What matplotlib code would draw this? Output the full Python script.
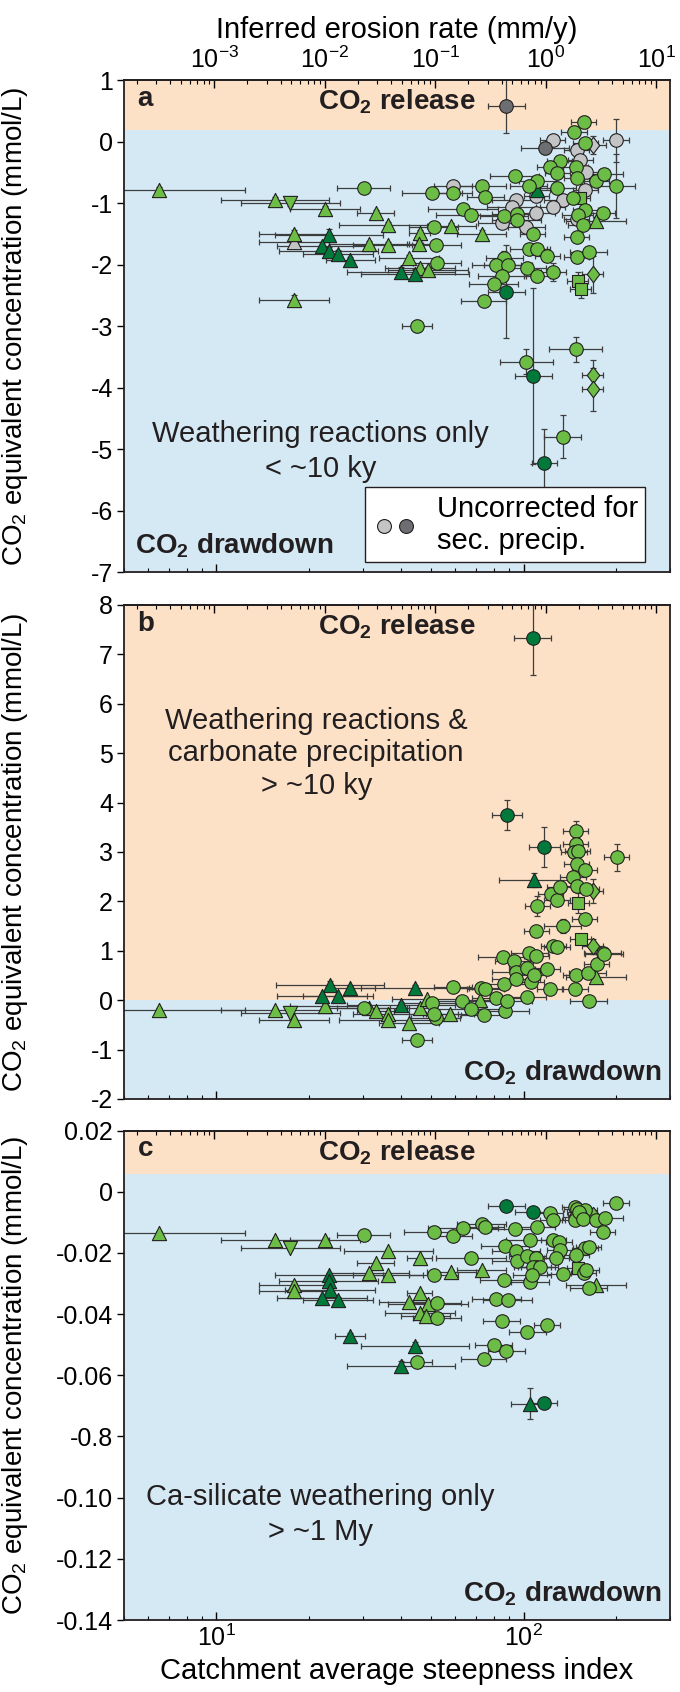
import numpy as np
import matplotlib
matplotlib.use('Agg')
from matplotlib import pyplot as plt
from matplotlib.lines import Line2D
from matplotlib.legend_handler import HandlerTuple
from matplotlib.ticker import NullFormatter, FixedFormatter

plt.rcParams['font.family'] = ['Liberation Sans', 'DejaVu Sans']
plt.rcParams['mathtext.default'] = 'regular'
plt.rcParams['axes.unicode_minus'] = False

# ---- data: ksn (x), CO2 equivalent (y), ksn error as factor, y error ----
# panel a
A_TRI_K = [6.5, 15.5, 22.6, 33.0, 36.3, 17.9, 45.9, 58.2, 73.0, 31.5, 36.3, 45.8, 42.4, 45.9, 48.9, 17.9, 172.5]
A_TRI_Y = [-0.79, -0.95, -1.10, -1.17, -1.36, -1.50, -1.49, -1.37, -1.50, -1.66, -1.68, -1.66, -1.89, -2.05, -2.09, -2.58, -1.30]
A_TRI_KE = [1.9, 1.5, 1.3, 1.15, 1.45, 1.3, 1.08, 1.2, 1.2, 1.35, 1.3, 1.1, 1.25, 1.3, 1.35, 1.3, 1.25]
A_TRI_YE = [0.05, 0.05, 0.05, 0.06, 0.05, 0.06, 0.05, 0.05, 0.06, 0.05, 0.05, 0.05, 0.05, 0.05, 0.05, 0.08, 0.08]
A_TRID_K = [23.2, 22.1, 23.2, 24.8, 27.3, 39.8, 44.4, 111.0]
A_TRID_Y = [-1.52, -1.70, -1.78, -1.83, -1.92, -2.12, -2.16, -0.79]
A_TRID_KE = [1.5, 1.4, 1.45, 1.3, 1.2, 1.5, 1.5, 1.1]
A_TRID_YE = [0.10, 0.06, 0.06, 0.06, 0.05, 0.08, 0.08, 0.05]
A_TRIV_K, A_TRIV_Y, A_TRIV_KE, A_TRIV_YE = [17.4], [-1.00], [1.45], [0.05]
A_TRIG_K, A_TRIG_Y, A_TRIG_KE, A_TRIG_YE = [17.9], [-1.63], [1.3], [0.05]
A_CIR_K = [30.2, 50.4, 58.9, 73.3, 75.2, 93.5, 111, 104, 131, 122,
           129, 148, 149, 172.5, 183, 200, 129, 157, 146, 159,
           145, 159, 150, 181, 156, 63.4, 67.6, 86.5, 95, 95,
           107, 149, 149, 163, 51, 52, 52.3, 104, 110.5, 119.5,
           86.5, 81.5, 89, 103, 110.5, 125, 85, 80, 74.1, 44.9,
           102, 148, 134]
A_CIR_Y = [-0.75, -0.83, -0.84, -0.72, -0.90, -0.56, -0.64, -0.72, -0.31, -0.42,
           -0.51, -0.42, -0.60, -0.64, -0.53, -0.72, -0.75, 0.32, 0.15, -0.02,
           -0.92, -1.11, -1.20, -1.17, -1.36, -1.10, -1.20, -1.21, -1.18, -1.28,
           -1.50, -1.55, -1.87, -1.80, -1.39, -1.69, -1.97, -1.74, -1.74, -1.86,
           -1.90, -2.01, -2.01, -2.05, -2.19, -2.12, -2.18, -2.31, -2.60, -3.00,
           -3.58, -3.38, -4.80]
A_CIR_KE = [1.22, 1.25, 1.15, 1.2, 1.15, 1.2, 1.15, 1.15, 1.1, 1.1,
            1.1, 1.1, 1.1, 1.1, 1.15, 1.15, 1.15, 1.1, 1.1, 1.1,
            1.1, 1.1, 1.12, 1.1, 1.12, 1.3, 1.3, 1.2, 1.2, 1.2,
            1.1, 1.1, 1.1, 1.15, 1.2, 1.2, 1.2, 1.15, 1.1, 1.1,
            1.15, 1.2, 1.2, 1.15, 1.1, 1.1, 1.2, 1.2, 1.18, 1.12,
            1.22, 1.22, 1.15]
A_CIR_YE = [0.05, 0.05, 0.05, 0.05, 0.05, 0.05, 0.05, 0.05, 0.05, 0.05,
            0.05, 0.05, 0.05, 0.05, 0.05, 0.52, 0.05, 0.10, 0.10, 0.05,
            0.05, 0.05, 0.05, 0.05, 0.05, 0.05, 0.05, 0.06, 0.06, 0.06,
            0.05, 0.05, 0.05, 0.05, 0.05, 0.05, 0.05, 0.06, 0.06, 0.05,
            0.12, 0.06, 0.06, 0.06, 0.10, 0.15, 0.06, 0.06, 0.05, 0.10,
            0.20, 0.20, 0.35]
A_CIRD_K = [88, 107.5, 117]
A_CIRD_Y = [-2.44, -3.81, -5.23]
A_CIRD_KE = [1.15, 1.15, 1.1]
A_CIRD_YE = [0.76, 1.43, 0.55]
A_GRY_K = [124.5, 149, 153, 200, 160, 159, 110, 58.9, 94.6, 134, 124.5, 91.6, 110, 85, 102, 149]
A_GRY_Y = [0.02, -0.14, -0.30, 0.02, -0.49, -0.78, -0.89, -0.73, -0.95, -0.95, -1.06, -1.06, -1.16, -1.33, -1.39, -1.26]
A_GRY_KE = [1.1, 1.1, 1.1, 1.1, 1.1, 1.1, 1.1, 1.15, 1.2, 1.15, 1.1, 1.2, 1.15, 1.2, 1.15, 1.1]
A_GRY_YE = [0.05, 0.05, 0.05, 0.35, 0.05, 0.05, 0.05, 0.05, 0.05, 0.05, 0.05, 0.05, 0.05, 0.05, 0.05, 0.05]
A_GRYD_K, A_GRYD_Y, A_GRYD_KE, A_GRYD_YE = [88, 117.5], [0.58, -0.11], [1.15, 1.2], [0.44, 0.10]
A_SQ_K, A_SQ_Y, A_SQ_KE, A_SQ_YE = [153, 150, 153.5], [-0.91, -2.27, -2.40], [1.08, 1.08, 1.08], [0.05, 0.15, 0.15]
A_DIA_K, A_DIA_Y, A_DIA_KE, A_DIA_YE = [168, 168, 168], [-2.16, -3.80, -4.03], [1.08, 1.08, 1.08], [0.30, 0.25, 0.35]
A_DIAG_K, A_DIAG_Y, A_DIAG_KE, A_DIAG_YE = [169], [-0.06], [1.1], [0.15]

# panel b
B_TRI_K = [6.5, 15.5, 17.9, 22.6, 31.5, 33.0, 36.3, 36.3, 42.4, 45.9, 48.6, 57.7, 72.4, 172.5]
B_TRI_Y = [-0.20, -0.19, -0.41, -0.12, -0.15, -0.22, -0.28, -0.41, -0.46, -0.16, 0.03, -0.29, 0.00, 0.47]
B_TRI_KE = [1.9, 1.5, 1.3, 1.3, 1.35, 1.15, 1.3, 1.45, 1.25, 1.1, 1.3, 1.2, 1.2, 1.25]
B_TRI_YE = 0.04
B_TRID_K = [23.4, 22.1, 24.8, 27.3, 39.8, 44.4, 108]
B_TRID_Y = [0.30, 0.08, 0.08, 0.25, -0.09, 0.25, 2.43]
B_TRID_KE = [1.5, 1.4, 1.3, 1.2, 1.5, 1.5, 1.3]
B_TRID_YE = [0.08, 0.05, 0.05, 0.04, 0.06, 0.06, 0.15]
B_TRIV_K, B_TRIV_Y, B_TRIV_KE, B_TRIV_YE = [17.4], [-0.27], [1.45], [0.04]
B_CIR_K = [30.2, 50.4, 51.8, 51.0, 58.9, 63.0, 67.5, 72.6, 75.2, 74.1,
           81.5, 85.5, 86.7, 87.0, 88.5, 93.2, 94.4, 94.4, 103, 103,
           104.5, 106, 108, 110, 111, 110, 119.5, 122, 125, 128.5,
           122.5, 128.5, 131, 134, 148, 148, 146, 150, 149, 145,
           149, 158, 160, 158, 148, 147, 162, 163, 173, 181,
           183, 201, 44.9]
B_CIR_Y = [-0.16, -0.05, -0.36, -0.28, 0.27, -0.02, -0.18, 0.25, 0.22, -0.31,
           0.05, 0.88, 0.32, -0.21, -0.02, 0.79, 0.57, 0.42, 0.06, 0.66,
           0.96, 0.37, 0.51, 0.89, 1.91, 1.40, 0.64, 0.22, 1.09, 1.07,
           2.14, 2.02, 2.29, 1.50, 3.43, 3.16, 2.99, 3.02, 2.76, 2.49,
           2.31, 2.64, 2.24, 1.64, 0.51, 0.22, 0.55, -0.01, 0.74, 0.96,
           0.93, 2.89, -0.80]
B_CIR_KE = [1.22, 1.25, 1.2, 1.2, 1.15, 1.3, 1.3, 1.2, 1.15, 1.18,
            1.2, 1.2, 1.2, 1.2, 1.2, 1.15, 1.2, 1.2, 1.15, 1.15,
            1.15, 1.1, 1.1, 1.1, 1.1, 1.1, 1.1, 1.1, 1.1, 1.1,
            1.1, 1.1, 1.1, 1.15, 1.1, 1.1, 1.1, 1.1, 1.1, 1.1,
            1.1, 1.1, 1.1, 1.1, 1.1, 1.1, 1.15, 1.15, 1.1, 1.15,
            1.15, 1.1, 1.12]
B_CIR_YE = [0.05, 0.05, 0.05, 0.05, 0.05, 0.05, 0.05, 0.05, 0.05, 0.05,
            0.05, 0.05, 0.05, 0.05, 0.05, 0.05, 0.05, 0.05, 0.05, 0.05,
            0.05, 0.05, 0.05, 0.05, 0.20, 0.05, 0.05, 0.05, 0.05, 0.05,
            0.05, 0.05, 0.05, 0.15, 0.20, 0.05, 0.05, 0.05, 0.05, 0.05,
            0.05, 0.05, 0.05, 0.05, 0.05, 0.05, 0.05, 0.05, 0.05, 0.05,
            0.05, 0.28, 0.05]
B_CIRD_K, B_CIRD_Y, B_CIRD_KE, B_CIRD_YE = [107, 88.5, 117], [7.33, 3.75, 3.10], [1.15, 1.12, 1.12], [0.75, 0.30, 0.40]
B_SQ_K, B_SQ_Y, B_SQ_KE, B_SQ_YE = [151, 153.5], [1.97, 1.23], [1.08, 1.08], [0.20, 0.10]
B_DIA_K, B_DIA_Y, B_DIA_KE, B_DIA_YE = [168, 168], [2.21, 1.09], [1.08, 1.08], [0.25, 0.15]

# panel c
C_TRI_K = [6.5, 15.5, 22.6, 36.3, 45.9, 33.0, 31.5, 36.3, 58.2, 73.0, 17.9, 17.9, 45.9, 42.4, 48.9, 45.9, 48.0, 172.5]
C_TRI_Y = [-0.0136, -0.0158, -0.0158, -0.0194, -0.0218, -0.0234, -0.0265, -0.0272, -0.0261, -0.0256,
           -0.0304, -0.0323, -0.0331, -0.0359, -0.0366, -0.0397, -0.0405, -0.0305]
C_TRI_KE = [1.9, 1.5, 1.3, 1.4, 1.1, 1.15, 1.35, 1.3, 1.2, 1.2, 1.3, 1.3, 1.1, 1.25, 1.35, 1.3, 1.2, 1.25]
C_TRI_YE = 0.0006
C_TRID_K = [23.2, 23.2, 23.4, 22.1, 24.8, 27.3, 44.4, 39.8, 105]
C_TRID_Y = [-0.0273, -0.0293, -0.0320, -0.0348, -0.0353, -0.0471, -0.0506, -0.0569, -0.0693]
C_TRID_KE = [1.5, 1.45, 1.4, 1.4, 1.3, 1.12, 1.5, 1.5, 1.15]
C_TRID_YE = [0.0008, 0.0008, 0.0008, 0.0008, 0.0008, 0.0008, 0.0015, 0.0015, 0.005]
C_TRIV_K, C_TRIV_Y, C_TRIV_KE, C_TRIV_YE = [17.4], [-0.0183], [1.45], [0.0006]
C_CIR_K = [30.2, 51.0, 59.0, 63.4, 73.0, 75.2, 94.0, 110.5, 105, 122.4,
           124.4, 125, 130.7, 147, 149, 158, 148, 153, 147, 152,
           156, 172.5, 184, 200, 181, 87, 94.6, 131, 159, 163,
           148.6, 67.5, 95, 103, 110, 128, 110, 107, 113, 51,
           86.5, 105, 106.5, 134, 157, 160, 163, 81.5, 88.7, 52.3,
           52.3, 85, 119.4, 103, 80, 88, 74.1, 44.9]
C_CIR_Y = [-0.0142, -0.0131, -0.0145, -0.0118, -0.0106, -0.0117, -0.0123, -0.0117, -0.0158, -0.0068,
           -0.0093, -0.0158, -0.0163, -0.0049, -0.0058, -0.0060, -0.0082, -0.0076, -0.0093, -0.0065,
           -0.0088, -0.0093, -0.0087, -0.0036, -0.0131, -0.0178, -0.0194, -0.0191, -0.0185, -0.0180,
           -0.0207, -0.0216, -0.0225, -0.0210, -0.0218, -0.0216, -0.0247, -0.0247, -0.0245, -0.0272,
           -0.0289, -0.0294, -0.0272, -0.0270, -0.0267, -0.0256, -0.0316, -0.0352, -0.0354, -0.0363,
           -0.0414, -0.0422, -0.0436, -0.0458, -0.0500, -0.0522, -0.0547, -0.0557]
C_CIR_KE = [1.22, 1.25, 1.15, 1.3, 1.2, 1.15, 1.2, 1.15, 1.2, 1.1,
            1.1, 1.1, 1.1, 1.1, 1.1, 1.1, 1.1, 1.1, 1.1, 1.1,
            1.1, 1.1, 1.15, 1.1, 1.1, 1.2, 1.2, 1.1, 1.1, 1.1,
            1.1, 1.3, 1.2, 1.15, 1.15, 1.1, 1.15, 1.15, 1.15, 1.2,
            1.2, 1.15, 1.15, 1.12, 1.1, 1.1, 1.15, 1.2, 1.2, 1.2,
            1.2, 1.15, 1.1, 1.15, 1.15, 1.15, 1.18, 1.12]
C_CIR_YE = 0.0007
C_CIRD_K, C_CIRD_Y, C_CIRD_KE, C_CIRD_YE = [88, 107.7, 117], [-0.0047, -0.0065, -0.0691], [1.15, 1.15, 1.1], [0.0006, 0.0006, 0.0008]
C_SQ_K, C_SQ_Y, C_SQ_KE, C_SQ_YE = [150], [-0.0250], [1.08], [0.0008]
C_DIA_K, C_DIA_Y, C_DIA_KE, C_DIA_YE = [168], [-0.0076], [1.08], [0.0008]

# axis ticks / labels
A_YTICKS = [-7, -6, -5, -4, -3, -2, -1, 0, 1]
B_YTICKS = [-2, -1, 0, 1, 2, 3, 4, 5, 6, 7, 8]
C_YTICKS = [-0.14, -0.12, -0.10, -0.08, -0.06, -0.04, -0.02, 0.0, 0.02]
C_YTICKLABELS = ['-0.14', '-0.12', '-0.10', '-0.8', '-0.06', '-0.04', '-0.02', '0', '0.02']

# erosion rate E = (ksn / K0) ** N (top axis)
K0 = 118.0
N_EXP = 2.78

ORANGE = '#fce1c7'
BLUE = '#d5e9f5'
GREEN_L = '#6cbd45'
GREEN_D = '#00793a'
GREY_L = '#c3c4c6'
GREY_D = '#6d6e71'
EDGE = '#231f20'
ERR = '#3d3d3d'
FS_TICK = 18
FS_LAB = 21
FS_YLAB = 20
FS_BOLD = 20
DIAMOND = [(0, 1), (0.76, 0), (0, -1), (-0.76, 0), (0, 1)]


def k_to_e(k):
    return (np.maximum(k, 1e-12) / K0) ** N_EXP


def e_to_k(e):
    return K0 * np.maximum(e, 1e-30) ** (1.0 / N_EXP)


def draw_group(ax, k, y, ke, ye, marker, color, size, z):
    k = np.asarray(k, float)
    ke = np.asarray(ke, float)
    ax.errorbar(k, y, xerr=[k - k / ke, k * ke - k], yerr=ye, fmt='none',
                ecolor=ERR, elinewidth=0.9, capsize=2.5, capthick=0.9, zorder=2)
    ax.scatter(k, y, marker=marker, s=size, facecolor=color, edgecolor=EDGE,
               linewidth=0.8, zorder=z)


def setup(ax, ylim, split, yticks, top_labels, bottom_labels):
    ax.set_xscale('log')
    ax.set_xlim(5, 300)
    ax.set_ylim(*ylim)
    ax.axhspan(split, ylim[1], color=ORANGE, zorder=0, lw=0)
    ax.axhspan(ylim[0], split, color=BLUE, zorder=0, lw=0)
    ax.set_yticks(yticks)
    ax.tick_params(axis='y', direction='out', length=5, width=1, labelsize=FS_TICK, pad=3)
    ax.tick_params(axis='x', which='major', direction='in', length=6, width=1, labelsize=FS_TICK)
    ax.tick_params(axis='x', which='minor', direction='in', length=3, width=0.8)
    ax.xaxis.set_minor_formatter(NullFormatter())
    if not bottom_labels:
        ax.tick_params(axis='x', labelbottom=False)
    for sp in ax.spines.values():
        sp.set_color(EDGE)
        sp.set_linewidth(1.3)
    sec = ax.secondary_xaxis('top', functions=(k_to_e, e_to_k))
    sec.tick_params(axis='x', which='major', direction='in', length=6, width=1,
                    labelsize=FS_TICK, pad=5)
    sec.tick_params(axis='x', which='minor', direction='in', length=3, width=0.8)
    sec.spines['top'].set_color(EDGE)
    sec.spines['top'].set_linewidth(1.3)
    if not top_labels:
        sec.tick_params(axis='x', labeltop=False)
    ax.set_ylabel(r'CO$_2$ equivalent concentration (mmol/L)', fontsize=FS_YLAB)
    ax.yaxis.set_label_coords(-0.172, 0.5)
    return sec


fig = plt.figure(figsize=(6.8, 16.92), dpi=100)
ax_a = fig.add_axes([0.1824, 0.6619, 0.8029, 0.2908])
ax_b = fig.add_axes([0.1824, 0.3505, 0.8029, 0.2920])
ax_c = fig.add_axes([0.1824, 0.04255, 0.8029, 0.2893])

sec_a = setup(ax_a, (-7, 1), 0.19, A_YTICKS, True, False)
setup(ax_b, (-2, 8), 0.0, B_YTICKS, False, False)
setup(ax_c, (-0.14, 0.02), 0.0057, C_YTICKS, False, True)
ax_c.yaxis.set_major_formatter(FixedFormatter(C_YTICKLABELS))
sec_a.set_xlabel('Inferred erosion rate (mm/y)', fontsize=FS_LAB, labelpad=6)
ax_c.set_xlabel('Catchment average steepness index', fontsize=FS_LAB, labelpad=4)

S_TRI, S_CIR, S_SQ, S_DIA = 105, 95, 80, 140

# panel a
draw_group(ax_a, A_GRY_K, A_GRY_Y, A_GRY_KE, A_GRY_YE, 'o', GREY_L, S_CIR, 3)
draw_group(ax_a, A_GRYD_K, A_GRYD_Y, A_GRYD_KE, A_GRYD_YE, 'o', GREY_D, S_CIR, 3)
draw_group(ax_a, A_TRIG_K, A_TRIG_Y, A_TRIG_KE, A_TRIG_YE, '^', GREY_L, S_TRI, 3)
draw_group(ax_a, A_DIAG_K, A_DIAG_Y, A_DIAG_KE, A_DIAG_YE, DIAMOND, GREY_L, S_DIA, 3)
draw_group(ax_a, A_TRI_K, A_TRI_Y, A_TRI_KE, A_TRI_YE, '^', GREEN_L, S_TRI, 4)
draw_group(ax_a, A_TRIV_K, A_TRIV_Y, A_TRIV_KE, A_TRIV_YE, 'v', GREEN_L, S_TRI, 4)
draw_group(ax_a, A_TRID_K, A_TRID_Y, A_TRID_KE, A_TRID_YE, '^', GREEN_D, S_TRI, 4)
draw_group(ax_a, A_SQ_K, A_SQ_Y, A_SQ_KE, A_SQ_YE, 's', GREEN_L, S_SQ, 4)
draw_group(ax_a, A_DIA_K, A_DIA_Y, A_DIA_KE, A_DIA_YE, DIAMOND, GREEN_L, S_DIA, 4)
draw_group(ax_a, A_CIR_K, A_CIR_Y, A_CIR_KE, A_CIR_YE, 'o', GREEN_L, S_CIR, 5)
draw_group(ax_a, A_CIRD_K, A_CIRD_Y, A_CIRD_KE, A_CIRD_YE, 'o', GREEN_D, S_CIR, 5)

# panel b
draw_group(ax_b, B_TRI_K, B_TRI_Y, B_TRI_KE, B_TRI_YE, '^', GREEN_L, S_TRI, 4)
draw_group(ax_b, B_TRIV_K, B_TRIV_Y, B_TRIV_KE, B_TRIV_YE, 'v', GREEN_L, S_TRI, 4)
draw_group(ax_b, B_TRID_K, B_TRID_Y, B_TRID_KE, B_TRID_YE, '^', GREEN_D, S_TRI, 4)
draw_group(ax_b, B_SQ_K, B_SQ_Y, B_SQ_KE, B_SQ_YE, 's', GREEN_L, S_SQ, 4)
draw_group(ax_b, B_DIA_K, B_DIA_Y, B_DIA_KE, B_DIA_YE, DIAMOND, GREEN_L, S_DIA, 4)
draw_group(ax_b, B_CIR_K, B_CIR_Y, B_CIR_KE, B_CIR_YE, 'o', GREEN_L, S_CIR, 5)
draw_group(ax_b, B_CIRD_K, B_CIRD_Y, B_CIRD_KE, B_CIRD_YE, 'o', GREEN_D, S_CIR, 5)

# panel c
draw_group(ax_c, C_TRI_K, C_TRI_Y, C_TRI_KE, C_TRI_YE, '^', GREEN_L, S_TRI, 4)
draw_group(ax_c, C_TRIV_K, C_TRIV_Y, C_TRIV_KE, C_TRIV_YE, 'v', GREEN_L, S_TRI, 4)
draw_group(ax_c, C_TRID_K, C_TRID_Y, C_TRID_KE, C_TRID_YE, '^', GREEN_D, S_TRI, 4)
draw_group(ax_c, C_SQ_K, C_SQ_Y, C_SQ_KE, C_SQ_YE, 's', GREEN_L, S_SQ, 4)
draw_group(ax_c, C_DIA_K, C_DIA_Y, C_DIA_KE, C_DIA_YE, DIAMOND, GREEN_L, S_DIA, 4)
draw_group(ax_c, C_CIR_K, C_CIR_Y, C_CIR_KE, C_CIR_YE, 'o', GREEN_L, S_CIR, 5)
draw_group(ax_c, C_CIRD_K, C_CIRD_Y, C_CIRD_KE, C_CIRD_YE, 'o', GREEN_D, S_CIR, 5)

# annotations
bold = dict(fontsize=FS_BOLD, fontweight='bold', color=EDGE)
for ax, letter in [(ax_a, 'a'), (ax_b, 'b'), (ax_c, 'c')]:
    ax.text(0.025, 0.962, letter, transform=ax.transAxes, va='center', ha='left', **bold)
    ax.text(0.5, 0.955, 'CO$_2$ release', transform=ax.transAxes, va='center', ha='center', **bold)
ax_a.text(0.02, 0.025, 'CO$_2$ drawdown', transform=ax_a.transAxes, va='bottom', ha='left', **bold)
ax_b.text(0.985, 0.025, 'CO$_2$ drawdown', transform=ax_b.transAxes, va='bottom', ha='right', **bold)
ax_c.text(0.985, 0.025, 'CO$_2$ drawdown', transform=ax_c.transAxes, va='bottom', ha='right', **bold)

plain = dict(ha='center', va='center', multialignment='center', fontsize=FS_LAB, color=EDGE)
ax_a.text(0.36, 0.245, 'Weathering reactions only\n< ~10 ky', transform=ax_a.transAxes,
          linespacing=1.3, **plain)
ax_b.text(0.352, 0.70, 'Weathering reactions &\ncarbonate precipitation\n> ~10 ky',
          transform=ax_b.transAxes, linespacing=1.2, **plain)
ax_c.text(0.36, 0.215, 'Ca-silicate weathering only\n> ~1 My', transform=ax_c.transAxes,
          linespacing=1.3, **plain)

# legend for the uncorrected (grey) points
h1 = Line2D([], [], marker='o', ls='none', mfc=GREY_L, mec=EDGE, mew=0.8, ms=10)
h2 = Line2D([], [], marker='o', ls='none', mfc=GREY_D, mec=EDGE, mew=0.8, ms=10)
leg = ax_a.legend([(h1, h2)], ['Uncorrected for\nsec. precip.'],
                  handler_map={tuple: HandlerTuple(ndivide=None, pad=0.0)},
                  loc='lower right', bbox_to_anchor=(0.955, 0.02), borderaxespad=0,
                  frameon=True, fancybox=False, framealpha=1, edgecolor=EDGE,
                  fontsize=FS_LAB, handlelength=1.5, handletextpad=0.7, borderpad=0.25,
                  labelspacing=0.15)
leg.get_frame().set_linewidth(1.0)
leg.set_zorder(10)

plt.savefig('out.png', dpi=100)
